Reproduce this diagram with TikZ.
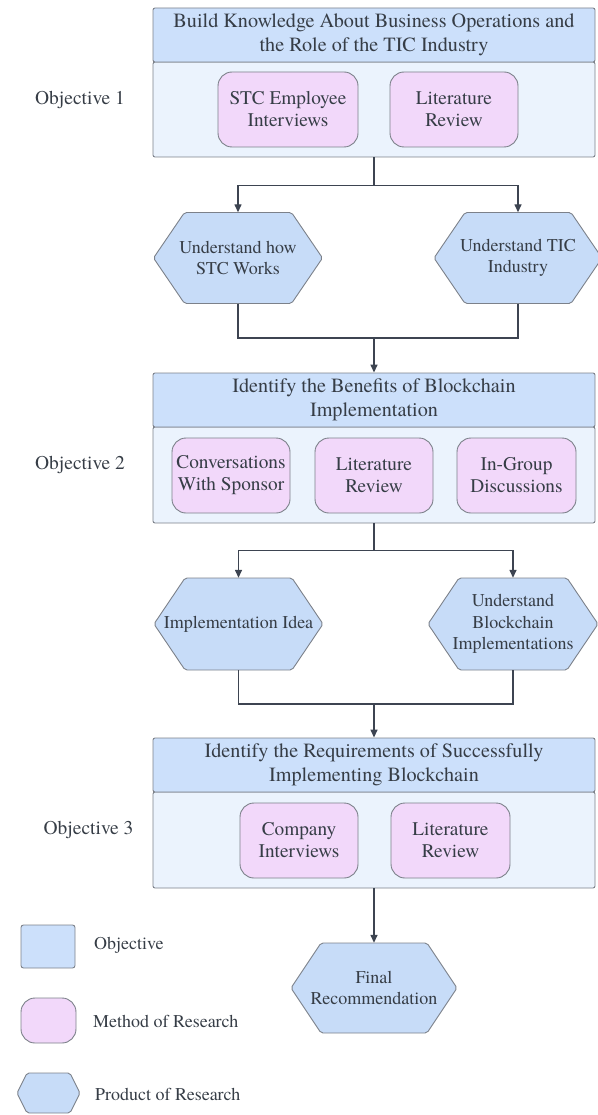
\documentclass[tikz,border=0pt]{standalone}
\usepackage{fontspec}
\IfFontExistsTF{texgyretermes-regular.otf}
  {\setmainfont{texgyretermes}[Extension=.otf, UprightFont=*-regular,
     BoldFont=*-bold, ItalicFont=*-italic, BoldItalicFont=*-bolditalic]}
  {\setmainfont{Liberation Serif}}
\usetikzlibrary{arrows.meta}
\definecolor{hdrfill}{HTML}{CCE0FB}
\definecolor{bodyfill}{HTML}{EBF3FD}
\definecolor{methfill}{HTML}{F2D8FA}
\definecolor{hexfill}{HTML}{C7DCF8}
\definecolor{edgegrey}{HTML}{7C818A}
\definecolor{inkgrey}{HTML}{363D46}
\definecolor{linkdark}{HTML}{3D4451}
\tikzset{
  boxline/.style={draw=edgegrey, line width=0.9pt},
  hdr/.style={boxline, fill=hdrfill, rounded corners=2pt, align=center, text=inkgrey,
    font=\fontsize{20.2}{24}\selectfont, inner sep=0pt},
  bodybox/.style={boxline, fill=bodyfill, rounded corners=2pt, inner sep=0pt},
  meth/.style={boxline, fill=methfill, rounded corners=14pt, align=center, text=inkgrey,
    font=\fontsize{19.3}{22}\selectfont, inner sep=0pt, minimum height=75pt},
  hexline/.style={boxline, fill=hexfill, rounded corners=2pt},
  hextext/.style={align=center, text=inkgrey, font=\fontsize{18}{21.5}\selectfont, inner sep=0pt},
  objlabel/.style={text=inkgrey, font=\fontsize{19.5}{23}\selectfont, inner sep=0pt},
  keylabel/.style={text=inkgrey, font=\fontsize{18}{21}\selectfont, inner sep=0pt, anchor=west},
  link/.style={draw=linkdark, line width=1.4pt},
  linkarrow/.style={link, -{Triangle[length=8pt,width=7pt]}},
}
% hexagon: name, centre x, centre y, width, height, slant inset, text
\newcommand\prodhex[7]{%
  \filldraw[hexline] (#2-#4/2,#3) -- (#2-#4/2+#6,#3-#5/2) -- (#2+#4/2-#6,#3-#5/2)
    -- (#2+#4/2,#3) -- (#2+#4/2-#6,#3+#5/2) -- (#2-#4/2+#6,#3+#5/2) -- cycle;
  \node[hextext, minimum width=#4 pt, minimum height=#5 pt] (#1) at (#2,#3) {#7};}
\begin{document}
\begin{tikzpicture}[x=1pt,y=-1pt]
\useasboundingbox (0,0) rectangle (597,1115);

% ---- Objective 1 ----
\node[bodybox, minimum width=442pt, minimum height=95pt] (b1) at (374,109.5) {};
\node[hdr, minimum width=442pt, minimum height=54pt] (h1) at (374,35)
  {Build Knowledge About Business Operations and\\the Role of the TIC Industry};
\node[meth, minimum width=140pt] (m11) at (288,109.5) {STC Employee\\Interviews};
\node[meth, minimum width=128pt] (m12) at (454,109.5) {Literature\\Review};
\node[objlabel] (o1) at (80,100) {Objective 1};

\prodhex{p11}{238}{258}{169}{91}{31}{Understand how\\STC Works}
\prodhex{p12}{518}{258}{168}{91}{31}{Understand TIC\\Industry}

\draw[link] (b1.south) -- ++(0,28) coordinate (s1);
\draw[linkarrow] (s1) -| (p11.north);
\draw[linkarrow] (s1) -| (p12.north);
\coordinate (j1) at (374,338);
\draw[link] (p11.south) |- (j1);
\draw[link] (p12.south) |- (j1);

% ---- Objective 2 ----
\node[bodybox, minimum width=442pt, minimum height=96pt] (b2) at (374,475) {};
\node[hdr, minimum width=442pt, minimum height=54pt] (h2) at (374,400)
  {Identify the Benefits of Blockchain\\Implementation};
\node[meth, minimum width=118pt] (m21) at (231,475.5) {Conversations\\With Sponsor};
\node[meth, minimum width=118pt] (m22) at (374,475.5) {Literature\\Review};
\node[meth, minimum width=119pt] (m23) at (516.5,475.5) {In-Group\\Discussions};
\node[objlabel] (o2) at (80,465) {Objective 2};
\draw[linkarrow] (j1) -- (h2.north);

\prodhex{p21}{238.5}{624}{169}{92}{31}{Implementation Idea}
\prodhex{p22}{513}{624}{170}{92}{31}{Understand\\Blockchain\\Implementations}

\draw[link] (b2.south) -- ++(0,27) coordinate (s2);
\draw[linkarrow] (s2) -| (p21.north);
\draw[linkarrow] (s2) -| (p22.north);
\coordinate (j2) at (374,704);
\draw[link] (p21.south) |- (j2);
\draw[link] (p22.south) |- (j2);

% ---- Objective 3 ----
\node[bodybox, minimum width=442pt, minimum height=96pt] (b3) at (374,840) {};
\node[hdr, minimum width=442pt, minimum height=54pt] (h3) at (374,765)
  {Identify the Requirements of Successfully\\Implementing Blockchain};
\node[meth, minimum width=118pt] (m31) at (299,840.5) {Company\\Interviews};
\node[meth, minimum width=119pt] (m32) at (450.5,840.5) {Literature\\Review};
\node[objlabel] (o3) at (88.5,830) {Objective 3};
\draw[linkarrow] (j2) -- (h3.north);

\prodhex{fin}{374}{988}{166}{90}{30}{Final\\Recommendation}
\draw[linkarrow] (b3.south) -- (fin.north);

% ---- key ----
\node[boxline, fill=hdrfill, rounded corners=2.5pt, minimum width=54pt, minimum height=43pt, inner sep=0pt]
  (k1) at (48,946.5) {};
\node[boxline, fill=methfill, rounded corners=14pt, minimum width=55pt, minimum height=45pt, inner sep=0pt]
  (k2) at (48.5,1020.5) {};
\prodhex{k3}{48.5}{1093}{63}{40}{10}{}
\node[keylabel] (t1) at (94,945) {Objective};
\node[keylabel] (t2) at (93,1021) {Method of Research};
\node[keylabel] (t3) at (95,1094) {Product of Research};
\end{tikzpicture}
\end{document}
